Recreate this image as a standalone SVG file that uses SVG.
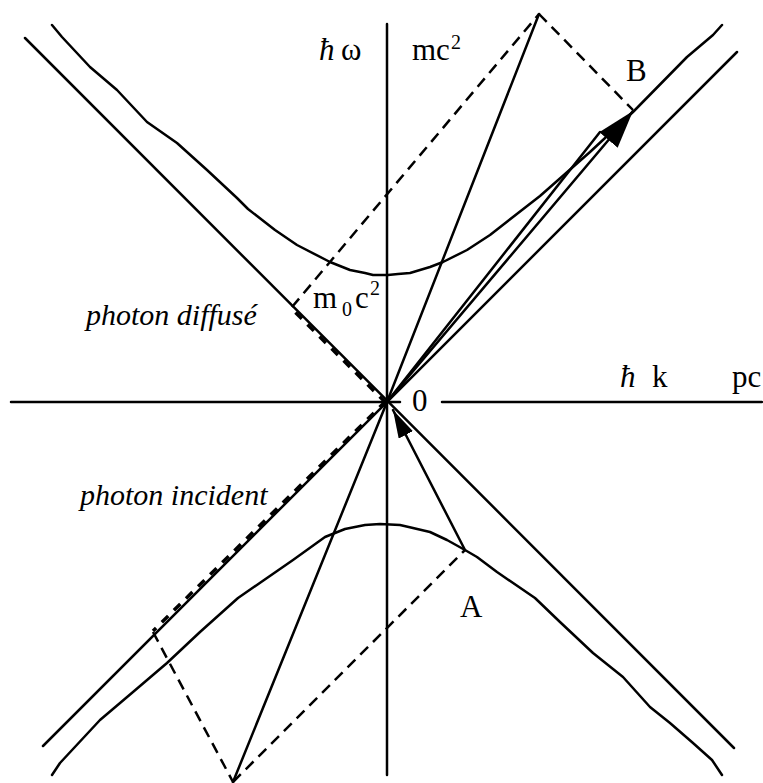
<svg xmlns="http://www.w3.org/2000/svg" width="763" height="783" viewBox="0 0 763 783">
<style>
.s{fill:none;stroke:#000;stroke-width:2.5;stroke-linejoin:round;stroke-linecap:round}
.d{fill:none;stroke:#000;stroke-width:2.5;stroke-dasharray:11 7}
.dt{fill:none;stroke:#000;stroke-width:3.5;stroke-dasharray:9 8}
text{font-family:"Liberation Serif","Times New Roman",serif;font-size:31px;fill:#000}
.i{font-style:italic}
.lb{font-size:30px}
.sm{font-size:20px}
</style>
<defs>
<marker id="ahB" markerUnits="userSpaceOnUse" viewBox="0 0 38 24" refX="38" refY="12" markerWidth="38" markerHeight="24" orient="auto"><path d="M0,0 L38,12 L0,24 z" fill="#000"/></marker>
<marker id="ahO" markerUnits="userSpaceOnUse" viewBox="0 0 28 16" refX="28" refY="8" markerWidth="28" markerHeight="16" orient="auto"><path d="M0,0 L28,8 L0,16 z" fill="#000"/></marker>
</defs>
<g id="axes">
<line class="s" x1="387" y1="24" x2="387" y2="775"/>
<line class="s" x1="11" y1="402" x2="400" y2="402"/>
<line class="s" x1="442" y1="402" x2="762" y2="402"/>
</g>
<g id="asymptotes">
<line class="s" x1="25" y1="38" x2="734" y2="748"/>
<line class="s" x1="737" y1="52" x2="43" y2="746"/>
</g>
<g id="hyperbola-upper">
<polyline class="s" points="52,25 62,37 90,67 117,90 147,122 177,143 207,170 237,198 248,209 275,230 297,245 330,262 350,270 365,273 373,275 388,275 398,274 410,273 430,267 443,262 467,250 490,235 540,196 590,152 633,112 687,57 713,35 722,25"/>
</g>
<g id="hyperbola-lower">
<polyline class="s" points="52,775 60,763 100,720 133,692 167,663 200,632 238,598 293,560 325,537 345,529 365,525 380,524 400,525 413,528 430,532 447,540 465,550 477,557 497,572 535,598 560,622 593,653 623,677 650,707 670,723 693,743 712,760 722,775"/>
</g>
<g id="connectors">
<line class="s" x1="233" y1="782" x2="387" y2="402"/>
<line class="s" x1="387" y1="402" x2="539" y2="14"/>
<line class="s" x1="387" y1="402" x2="600" y2="132"/>
<line class="s" x1="387" y1="402" x2="633" y2="111" marker-end="url(#ahB)"/>
<line class="s" x1="465" y1="550" x2="393" y2="410" marker-end="url(#ahO)"/>
<line class="dt" x1="386" y1="403" x2="291" y2="308"/>
<line class="d" x1="292" y1="307" x2="539" y2="14"/>
<line class="d" x1="539" y1="14" x2="633" y2="110"/>
<line class="dt" x1="386" y1="401" x2="153" y2="631"/>
<line class="d" x1="153" y1="632" x2="233" y2="782"/>
<line class="d" x1="233" y1="782" x2="465" y2="550"/>
</g>
<g id="labels">
<text class="i" x="319" y="60">ħ</text>
<text x="341" y="60">ω</text>
<text x="412" y="60">mc</text>
<text class="sm" x="451" y="49">2</text>
<text x="626" y="81">B</text>
<text x="460" y="617">A</text>
<text x="412" y="411">0</text>
<text class="i" x="620" y="387">ħ</text>
<text x="652" y="387">k</text>
<text x="732" y="387">pc</text>
<text x="313" y="308">m</text>
<text class="sm" x="342" y="316">0</text>
<text x="355" y="308">c</text>
<text class="sm" x="370" y="295">2</text>
<text class="i lb" x="86" y="325">photon diffusé</text>
<text class="i lb" x="80" y="505">photon incident</text>
</g>
</svg>
